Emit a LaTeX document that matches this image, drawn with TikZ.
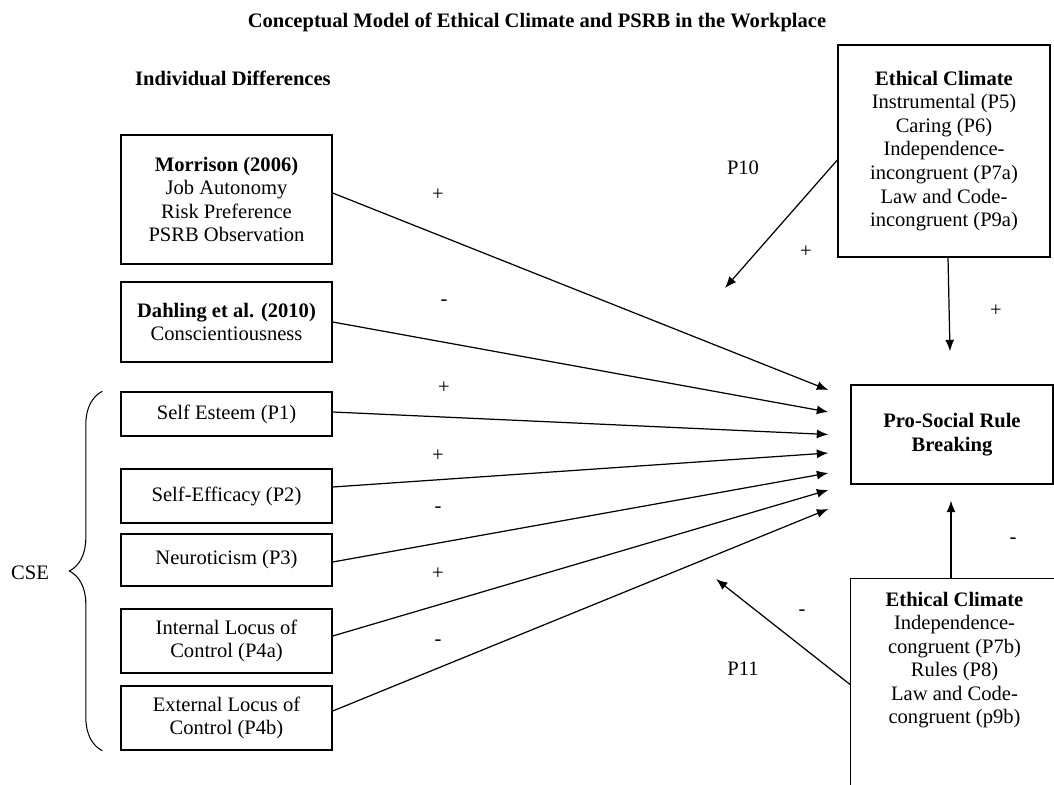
\documentclass[tikz,border=0pt]{standalone}
\usepackage{fontspec}
\setmainfont{Liberation Serif}
\usetikzlibrary{calc, positioning, arrows.meta, decorations.pathreplacing}

\begin{document}
\begin{tikzpicture}[x=0.02cm, y=-0.02cm,
  every node/.style={font=\fontsize{11.7}{13.4}\selectfont},
  box/.style={draw, line width=0.8pt, align=center, inner sep=0pt, minimum width=4.22cm},
  link/.style={line width=0.7pt, -{Latex[length=0.23cm, width=0.18cm]}},
  sign/.style={inner sep=0pt}]
  \useasboundingbox (0,0) rectangle (1054,784);

  % headings
  \node (title) at (537,22) {\textbf{Conceptual Model of Ethical Climate and PSRB in the Workplace}};
  \node[anchor=west] (indiv) at (129,78) {\textbf{Individual Differences}};

  % individual differences
  \node[box, minimum height=2.58cm] (morrison) at (226.5,199.5) {\textbf{Morrison (2006)}\\Job Autonomy\\Risk Preference\\PSRB Observation};
  \node[box, minimum height=1.6cm] (dahling) at (226.5,322) {\textbf{Dahling et al. (2010)}\\Conscientiousness};
  \node[box, minimum height=0.88cm] (esteem) at (226.5,414) {Self Esteem (P1)};
  \node[box, minimum height=1.08cm] (efficacy) at (226.5,496) {Self-Efficacy (P2)};
  \node[box, minimum height=1.04cm] (neuro) at (226.5,560) {Neuroticism (P3)};
  \node[box, minimum height=1.28cm] (intloc) at (226.5,641) {Internal Locus of\\Control (P4a)};
  \node[box, minimum height=1.28cm] (extloc) at (226.5,718) {External Locus of\\Control (P4b)};

  % CSE brace
  \draw[line width=0.6pt, decorate, decoration={brace, amplitude=0.66cm}]
    ([xshift=-0.36cm]extloc.south west) -- ([xshift=-0.36cm]esteem.north west);
  \node (cse) at (30,573) {CSE};

  % outcome
  \node[box, minimum width=4.04cm, minimum height=1.98cm] (psrb) at (952,434.5) {\textbf{Pro-Social Rule}\\\textbf{Breaking}};

  % ethical climates
  \node[box, minimum width=4.24cm, minimum height=4.24cm] (ectop) at (944,151) {\textbf{Ethical Climate}\\Instrumental (P5)\\Caring (P6)\\Independence-\\incongruent (P7a)\\Law and Code-\\incongruent (P9a)};
  \node[align=center, inner sep=0pt, minimum width=4.14cm, minimum height=3.24cm] (ecbot) at (954.5,660) {\textbf{Ethical Climate}\\Independence-\\congruent (P7b)\\Rules (P8)\\Law and Code-\\congruent (p9b)};
  \draw[line width=0.8pt] ([yshift=-5cm]ecbot.north west) -- (ecbot.north west) -- (ecbot.north east) -- ([yshift=-5cm]ecbot.north east);

  % arrows into PSRB
  \foreach \name/\dy in {m/0.89, d/0.45, e/0, f/-0.37, n/-0.77, i/-1.11, x/-1.49}
    \coordinate (in-\name) at ([xshift=-0.44cm, yshift=\dy cm]psrb.west);
  \foreach \src/\sy/\tgt in {morrison/0.13/m, dahling/0/d, esteem/0.04/e, efficacy/0.18/f, neuro/-0.04/n, intloc/0.1/i, extloc/0.14/x}
    \draw[link] ([yshift=\sy cm]\src.east) -- (in-\tgt);

  \foreach \s/\px/\py [count=\k] in {+/438/195, -/444/303, +/444/388, +/438/456, -/438/510, +/438/574, -/438/643}
    \node[sign] (sign\k) at (\px,\py) {\s};

  % ethical climate links
  \coordinate (p10-end) at (725,288);
  \draw[link] ([yshift=-0.18cm]ectop.west) -- (p10-end);
  \coordinate (ec-in) at ([xshift=-0.04cm, yshift=0.66cm]psrb.north);
  \draw[link] ([xshift=0.08cm]ectop.south) -- (ec-in);
  \coordinate (ecb-in) at ([xshift=-0.02cm, yshift=-0.32cm]psrb.south);
  \draw[link] (ecbot.north -| ecb-in) -- (ecb-in);
  \coordinate (p11-end) at (716,579);
  \draw[link] ([yshift=-0.5cm]ecbot.west) -- (p11-end);

  \node (p10) at (743,168) {P10};
  \node[sign] (sign-a) at (806,252) {+};
  \node[sign] (sign-b) at (996,311) {+};
  \node[sign] (sign-c) at (1013,541) {-};
  \node[sign] (sign-d) at (802,613) {-};
  \node (p11) at (743,669) {P11};
\end{tikzpicture}
\end{document}
